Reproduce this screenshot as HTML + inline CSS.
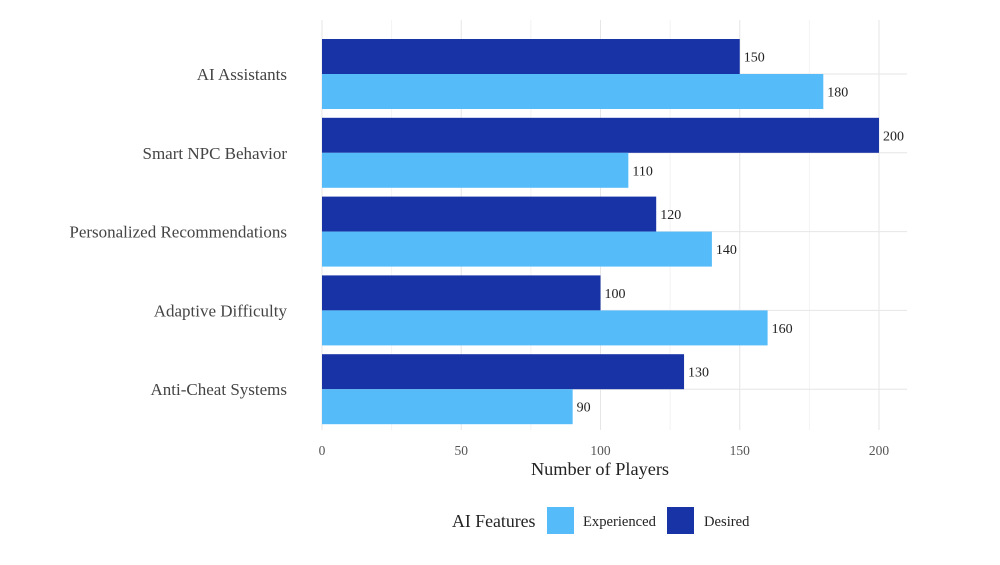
<!DOCTYPE html>
<html><head><meta charset="utf-8"><style>
body{margin:0;background:#fff;}
svg{display:block;font-family:"Liberation Serif",serif;}
</style></head><body>
<svg id="chart" width="1000" height="565">
<g id="grid"></g>
<g id="bars"></g>
<g id="labels"></g>
<text x="600" y="475" font-size="18.3" text-anchor="middle" fill="#222">Number of Players</text>
<g>
<text x="452" y="527" font-size="17.8" fill="#222">AI Features</text>
<rect x="547" y="507" width="27" height="27" fill="#56BCF9"/>
<text x="583" y="526" font-size="14.6" fill="#222">Experienced</text>
<rect x="667" y="507" width="27" height="27" fill="#1733A6"/>
<text x="704" y="526" font-size="14.6" fill="#222">Desired</text>
</g>
</svg>
<script>
const categories=["AI Assistants","Smart NPC Behavior","Personalized Recommendations","Adaptive Difficulty","Anti-Cheat Systems"];
const desired=[150,200,120,100,130];
const experienced=[180,110,140,160,90];
const xTicks=[0,50,100,150,200];
const NS="http://www.w3.org/2000/svg";
const x0=322,x1=879,pTop=20,pBot=430,pRight=907;
const xs=v=>x0+(x1-x0)*v/200;
const yc=i=>74+i*78.8;
const bh=35;
function mk(tag,attrs,parent,txt){const e=document.createElementNS(NS,tag);for(const k in attrs)e.setAttribute(k,attrs[k]);if(txt!==undefined)e.textContent=txt;parent.appendChild(e);return e;}
const grid=document.getElementById('grid'),bars=document.getElementById('bars'),labels=document.getElementById('labels');
for(let v=25;v<=200;v+=50){const l=mk('line',{x1:xs(v),x2:xs(v),y1:pTop,y2:pBot,stroke:'#f2f2f2','stroke-width':1},grid);

}
xTicks.forEach(v=>{const l=mk('line',{x1:xs(v),x2:xs(v),y1:pTop,y2:pBot,stroke:'#e6e6e6','stroke-width':1},grid);


const t=mk('text',{x:xs(v),y:455,'font-size':13.5,'text-anchor':'middle',fill:'#555'},labels,String(v));

});
categories.forEach((c,i)=>{const y=yc(i);
const g=mk('line',{x1:x0,x2:pRight,y1:y,y2:y,stroke:'#e6e6e6','stroke-width':1},grid);


const t=mk('text',{x:287,y:y+6,'font-size':17,'text-anchor':'end',fill:'#444'},labels,c);


const d=mk('rect',{x:x0,y:y-bh,width:xs(desired[i])-x0,height:bh,fill:'#1733A6'},bars);


const e=mk('rect',{x:x0,y:y,width:xs(experienced[i])-x0,height:bh,fill:'#56BCF9'},bars);


const dl=mk('text',{x:xs(desired[i])+4,y:y-bh/2+5,'font-size':14,fill:'#222'},labels,String(desired[i]));


const el=mk('text',{x:xs(experienced[i])+4,y:y+bh/2+5,'font-size':14,fill:'#222'},labels,String(experienced[i]));

});
</script>
</body></html>
